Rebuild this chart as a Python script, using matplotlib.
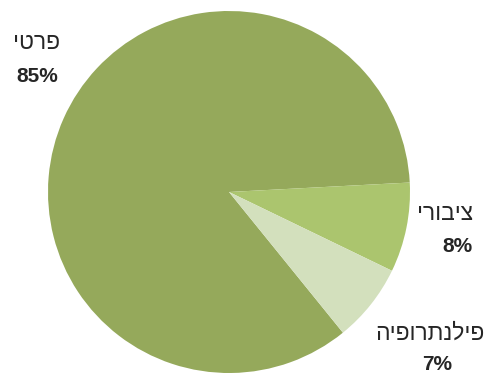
import matplotlib
matplotlib.use("Agg")
import matplotlib.pyplot as plt

# --- Data ---
labels = ["פרטי", "ציבורי", "פילנתרופיה"]
values = [85, 8, 7]
colors = ["#95a95b", "#abc56e", "#d3e0bd"]

# label positions in pixel coords (x, y from top)
name_pos = [(37, 42), (445, 213), (430, 333)]
pct_pos = [(37, 76), (457, 247), (437, 365)]

W, H = 502, 374
fig = plt.figure(figsize=(W / 100, H / 100), dpi=100)
ax = fig.add_axes([0, 0, 1, 1])

# slices go clockwise; privates first, ending at ~3 deg
start = 3 + 360 * values[0] / 100
ax.pie(values, colors=colors, startangle=start, counterclock=False,
       center=(229, H - 192), radius=181, frame=True,
       wedgeprops=dict(linewidth=0))
ax.set_xlim(0, W)
ax.set_ylim(0, H)
ax.axis("off")

fam = ["Liberation Sans", "DejaVu Sans"]
for lab, v, (nx, ny), (px, py) in zip(labels, values, name_pos, pct_pos):
    # matplotlib has no bidi, so reverse the Hebrew for display
    ax.text(nx, H - ny, lab[::-1], ha="center", va="center",
            fontsize=16.5, color="#262626", family=fam)
    ax.text(px, H - py, f"{v}%", ha="center", va="center",
            fontsize=15, fontweight="bold", color="#262626", family=fam)

fig.savefig("out.png", dpi=100)
